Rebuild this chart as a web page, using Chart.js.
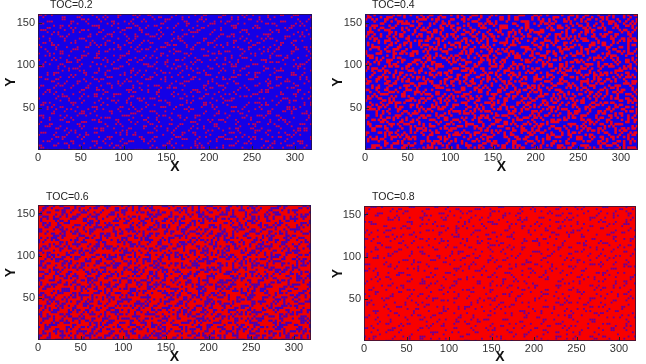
<!DOCTYPE html>
<html><head><meta charset="utf-8">
<script src="https://cdn.jsdelivr.net/npm/chart.js@4"></script>
<style>
html,body{margin:0;padding:0;background:#fff;width:646px;height:364px;overflow:hidden}
#wrap{position:relative;width:646px;height:364px}
canvas{position:absolute}
</style></head><body><div id="wrap"></div>
<script>
const xTicks=[0,50,100,150,200,250,300];
const yTicks=[50,100,150];
const titles=["TOC=0.2","TOC=0.4","TOC=0.6","TOC=0.8"];
// Hand-estimated texture of the minority phase; each hex digit covers 2x2 sub-cells.
const toc02Rows=[
"36010840 0c102806 40a10036 0290c004 18042061 00c30482 60180a04 21063008",
"00c40218 40360092 0c004810 64010a30 02c00691 0480c120 03064010 8c002481",
"21080c06 01028c40 16200194 080c2100 60a10408 31020c60 10840329 000c1640",
"8c300142 60c80014 0028630a 41006012 08041c30 04a00218 c0130048 42610082",
"0016a004 12004830 c6014080 1c082406 00c23100 60840c01 24008c60 10082a04",
"41800360 08c21006 018024a1 00316008 a6001084 08103206 800146c0 0a300118",
"0c240018 a0016408 38002c10 62c00841 03400c28 c1004a10 160c2002 84061200",
"90036080 040c1262 00a41806 00408c32 10a06002 06241880 0c308041 600240c8",
"02401c08 31800048 6201042c 13060082 c4021038 0048c003 41028a06 100c3024",
"18a20304 00c60a10 080c6100 0480a142 0036008c 21300406 02a01068 c0410082",
"40064180 2c100316 40810c28 60120040 c8102c00 460a0182 3800c410 06182006",
"06800c23 01402880 16002401 8c060a18 00426010 080c2460 00c40132 18004c60",
"3100a014 c6001042 08c30040 02380014 61a80402 c0140318 61002c04 8002a140",
"0048c201 02a40c18 30004a16 01042c80 06001c24 00620a01 048c2006 310c0042",
"c0120406 60018002 c4011820 60c20804 2801c003 18040c61 20a40018 c0031680",
"021c3080 0c240361 00806c04 03102a00 40c61208 a0032800 03100642 08d00124",
"84006c10 41081080 34260042 180c4081 03400086 02c41030 40860a18 6002c010",
"10c20042 00c30a44 01008c12 48006032 1800c424 30060081 24004c30 00138402",
"06281800 42800c06 18c40130 020a1006 8042030c 04188240 00c61300 a4086041",
"40006234 08120380 4200061c 80c41002 0c201860 80240c01 32088002 0c401806",
"0c800109 c0600414 0360a802 140032c0 00a81084 42063100 048c0420 60a21048",
"21460c00 14008c20 100c0240 06018c20 43040061 a8001c40 60081302 00c80412",
"00181062 80c20601 8424012c 10c40802 00361004 01400c82 04201860 0c361080",
"c4030480 06341800 0108c630 40024c01 84008c20 06128003 800c4618 40010236",
"01a00c12 40008462 30c00410 860a0024 01602808 80c41042 1a002040 6c020081",
"60840021 0c310038 00640281 02c01084 0c023400 1c020060 04c30814 02600c48",
"0230c180 02600c84 18020c00 a1062040 600814a0 034080c1 08604002 900184c0",
"8c004016 a0040c21 0046a080 08c20016 0841c006 20018c24 00a30610 48026130",
"1002c860 06830040 c4012038 400c0102 c6002804 10c60048 14c00280 c0360108",
"04c10208 40108c06 20060c40 b0640081 02308100 4a023180 06201c04 08108c02",
"c0086034 18200602 81c83000 02800c34 1800a642 00048c10 32008061 20c60380",
"21400c01 c0041830 0601048c 40164002 80c20130 c6014002 c8041620 01840c10"];
const toc04Rows=[
"a4180c62 15204983 06c01a24 83150628 4a0c3106 9120c418 3a06142c 8150a243",
"1260a149 c8046312 a1483025 1c60a482 16038c41 2e0590a6 41a83016 2c49068a",
"48c21806 2394a105 1836c204 50a91368 c4290a52 81361c04 92c0581a 03a42c91",
"05169c30 a2481e60 c2509a14 2c03148a 31806a94 0c2a4316 840b6c21 50198426",
"a3480a15 c1068429 3a04c186 91682c03 4a159062 b3048c15 206a1904 c3841a60",
"16c20924 385011a6 8491260c 034a9251 062c8138 4160a2c9 159c0342 1a60c894",
"8015a346 0c92a130 45180c6a 2491a038 c5a24016 0c39a184 62031ca8 40562a13",
"2ac40618 51a0263c 81a0345c 180e6410 28318c42 96a01c24 c190a382 96084a21",
"41092ca3 860c4891 32c61089 a5042e81 95c00a36 01844a63 08a25c10 243c8a06",
"9c2304a1 32a51064 a8014c32 6098c143 0a2e4185 3c60b014 96341082 a9c01638",
"03a81c62 9408c2a5 1036a894 120da460 c1039846 8415ca20 0c806a39 12450ca8",
"64150b86 20c3491a 9c02614a 38a10592 60a4c230 1a6c0845 3219c4a0 c8260349",
"a8c06213 8a14062c a3108c29 461c063a 189a0514 c2038a91 60ac1426 0318a654",
"1243a905 c039a146 1c865023 a9024c81 a3c04896 048216c3 1950a824 c8a31c02",
"060c94a8 1624c803 62094a1e 10c3a426 02691c08 58a34061 c8261a93 20491e64",
"94a12c06 a850126c 08a1c346 8506a192 c814620a 31c60a94 028c56a1 69a0248c",
"38042961 0c69a312 c6249012 c3814a08 2690a34c 8902c31a 64a09c13 048c2361",
"c2a18504 1ac05048 231c80a5 0a96240c 91054c36 a4268c01 1a83420c 9215c0a8",
"0149c632 850a36c4 a580431c 6021a8c3 0c3a1062 15c0469a 80c2a164 a0361c49",
"a62c0891 21940c86 0c16a229 a4910c52 86a12c90 63089a24 c1049268 1a850c24",
"14083a6c 4632a810 9a26018c 1830c645 a10864c3 0a92c148 26a50c14 c8421a93",
"862c9105 c0a1540a 64c1a302 c0590a18 34c2069a 813c4601 a9086c32 04a61c82",
"2391460a 1c08a269 03189c46 8a26c413 0985a21c 462a8139 0c52a084 691034ca",
"c0a8120c 60931c84 a8624013 190c82a4 c6341089 a0c1460a 938c1062 1ca25806",
"1846c3a2 8a04621c 41a58c26 06a1349c 028ac316 19084ca6 21a4c093 86014a2c",
"a40219c8 3c61a804 260c901a c4290861 a5640c92 4ca23108 c406a91c 2a8c4301",
"0963a410 90a2c643 18a4c632 0a968103 1c82a406 a1069c24 1a26c084 5190c8a6",
"c21c8946 04a81619 a4061c89 48c13a26 8061a3c9 3c18024a 846013a2 c0a2614c",
"1480a2c6 6a4c0283 0c8a2314 a2069c10 a43c0861 40a69c12 58c2a90c 09468a21",
"a2369018 81320ca4 c6a14580 1c92a4c0 0a8613c4 9a21c806 0234c186 a01c8264",
"08c4a163 2c96018a 1346082a c0861a34 c1a94206 068a1c43 a18c4026 9c34a010",
"86120c94 a14c8263 a0c91240 9a260c18 3826a10c 91c4036a 180a62c9 0486a239"];
const toc06Rows=[
"0e1603c4 a8304e12 70c2815a 16e00392 84c15a06 3c80e12a 06d1408c 7a100c36",
"81c03a58 12e60481 0c3a7016 c8215c04 36a01e82 c0147a03 90e6083c 41a27008",
"3c4816a0 c7089e10 63a014c8 027e3085 c0491a7c 08631e40 a2c80d16 38046ae1",
"a0127c06 30a5c241 08d19602 c3a80e14 5610c8a2 7e0324a0 1c760a41 82c37018",
"07e0a431 8c067a12 e4c03816 a1065c82 071ea030 c482160d a0385c06 e1408a36",
"c2183e80 14a0c736 1a048e52 087c1360 a8e1064c 13a8027e 41c0963a 082ce510",
"381c0652 e9017084 c25e0136 a0c84a17 02563c81 e0c74a20 863c1078 a45012c6",
"804e7a10 063c81a2 7018c3a4 6e12048c 37a0c812 067a1e80 3c04a2e1 08761c40",
"56013c82 a1e4027c 01a66c08 1370e2a0 0c4e8136 a8127c06 40e1983a 1c7028a4",
"0ca2c164 37081e5a c4801a76 c2083c41 a6701c04 3e80c254 1a067ce0 8342c10e",
"e2180703 c85ca601 3a16e048 017ca382 1058c2ae 0146e038 a0c3701c 06a8e412",
"417c80a6 12e0384c 804c73a0 1e4806c1 7c82a036 a8174c02 1e3605a8 c0713c86",
"0836ce12 a7046182 e71a0326 8c50e1a0 3a41068e 0c23e190 7804c6a3 1e0864c0",
"a1c0387e 04c31a78 06c43e81 a2176c04 c802e63a 71c0481e a26c0817 3c80a256",
"3e081245 e872018c 3a70c186 043e9420 1a6c3708 84e11a06 c0713e84 01cae230",
"c4a2760c 012ca64e 804813e6 a0c81752 e4080c3e 13a0c670 28c1043a 7e160984",
"06183ca1 e4061870 c7a2046c 183e0a41 06c7a108 e6023c81 a0564e81 20c3a60e",
"718e0432 81ca7e02 18463c80 c6a21e04 703c0a8e 0184c67a 1c08e203 4c81a762",
"a04c61e8 3c0264a8 e0c18307 4a1e6c02 81a34e06 c8371e40 82ce0461 30a8c41e",
"1e3208c4 a0761e08 3614e8c2 0a76013c c2801e74 0a36e148 06a1c730 8e13c006",
"8406ae31 c8120c7a 81c40e36 a1803e4c 162c0ae1 846c023a c1703e08 a4610c78",
"3ac81046 e273a804 7c06a211 ce400836 a1c07e28 13c6a084 2e708c16 0c43e1a0",
"0167c2a8 0c16e041 a28e370c 0641a8e3 0c36801e 74c028a6 13c8e406 7a02c18e",
"c8306e14 81a7c038 1064c8a3 7e0c1284 e3a00c47 a12e3608 c47018a2 0e64c310",
"16a8e204 7c0c1a60 e3c8041e 20a4c378 06c1e0a4 3c068c72 1e80a436 71c0281c",
"e0431c87 0162e48a 037c81a0 1ec60428 a17e0c36 81c0246e a8371c02 846ea301",
"2c7a0813 c6e0841e 60a8c437 0c821e60 a4013ce8 0617a2c8 046ce031 a6180e74",
"8106c3e4 1a036c81 e70c4a12 e4803c16 08c7a261 1ce08470 2ac6103e 81c40a76",
"4ae31084 70c81e26 18a4063c 81a76c02 3c801e4a 70c6082e 14a3c806 e7103c0a",
"06187ca2 0ec4a1e0 3c06c872 1a043e81 c6a2701e 0483c6a1 781e04c2 3a0c67e8",
"c3a01e46 812c7608 e1c0a438 046e7c10 820c3ea4 61c81ae0 063c8417 a2e0c814",
"1870c682 a4e01c36 0a6c8142 e3c0780e 1a846c03 e1a2086c 43a1e078 0c368a41"];
const toc08Rows=[
"06301080 c0230084 21060840 00c41802 30008106 40200c18 02460080 3100c204",
"800c4012 06100240 08c01024 61000832 0440c100 12064080 c0082006 048102c0",
"10210806 40800c32 00460180 04180600 a1028040 0c400318 04100c60 80a20014",
"4c000230 10c40201 80210048 a0010c42 08003610 80020c81 30400106 c0040a20",
"02308400 0c010620 14c00806 08024031 00620c04 16080044 80120c00 06208310",
"80040c61 20300084 40060a10 10c42000 0c100180 40a40210 04c18002 10040068",
"16002080 04860100 0a108240 06008430 40810024 08003c02 61040080 0c302100",
"c0410306 20001c04 80400314 40200c01 02340800 80c20400 10030840 00a10486",
"020c0010 c1060020 08320080 10a60401 c0000612 34040081 00c81006 c4010020",
"40801c40 02408801 40060c02 84000632 08140c00 01002860 c0021480 02081430",
"0821000c 30040c00 210080c4 00180240 60200108 c4018200 08460020 10600c02",
"a0040a60 00810214 0c006010 c2040800 01806004 020c1040 30008106 80044081",
"00312000 0c480008 c2010483 00300c14 86020040 08300006 81c00420 06200800",
"c4008140 10062180 00214008 06400120 00480c31 c0014080 00120c46 40810c10",
"04800216 0048a001 84000c60 a0081006 10c20084 02081400 36004002 00c40132",
"30140800 c4002018 000c4201 00312080 0c400106 40a01060 80030084 c1080400",
"00810c02 10300084 60800100 48020c14 00240180 0c140002 00c18040 12040086",
"82060010 00c10a40 04010c30 10840040 a1064800 00210860 04820014 60040c20",
"10004860 84000316 20408600 00210a04 60c00012 c0000c41 10200c04 00810602",
"0c100402 01c80020 08601004 c2001840 02001c20 10840200 c1400068 30201080",
"40a10080 30040c02 00820140 03008200 84600401 02c40180 00360080 04180c10",
"01004c30 00602081 c4000c10 60040c81 00183000 46002804 10800c42 80020064",
"86002004 08014800 10320400 04a01030 c0020480 10200c06 c0408108 00610200",
"20108108 c2002061 04800048 c1080206 04610080 00c48030 00021c04 60008410",
"00c40240 00183004 00a60012 00104820 10008c02 48002006 80124400 060c2000",
"04200803 40068400 c2100180 18000c20 01a00260 02001804 c1040036 10008041",
"30810040 02400c12 08040830 0680c400 8c000210 21c08000 34000c40 01201802",
"00060c10 80c00020 41800612 c0210040 00482104 08100c60 00108210 4c000810",
"c2400084 11000c26 00300c00 04108280 30040600 c0030081 62008004 00c10620",
"08010630 60002008 c4018040 02c00130 02c00081 00340c02 04810040 10300204",
"40c20004 04810c40 10200084 30000814 40060a10 80100c42 08200c01 c0020048",
"01100c60 80200302 06010048 c0420800 14800040 c2040106 01400830 06480100"];

const panels=[
 {title:titles[0],rows:toc02Rows,bg:"#1400e6",mark:"rgba(235,0,50,.85)",size:1.3,left:0,top:0,pad:{left:38,right:11,top:14},bottom:32,titleX:50,titleY:5,xPad:6,yPad:3},
 {title:titles[1],rows:toc04Rows,bg:"#1400e6",mark:"rgba(250,0,20,.95)",size:1.8,left:323,top:0,pad:{left:42,right:8,top:14},bottom:32,titleX:49,titleY:5,xPad:6,yPad:7},
 {title:titles[2],rows:toc06Rows,bg:"#f00000",mark:"rgba(30,0,225,.85)",size:1.5,left:0,top:182,pad:{left:38,right:12,top:23},bottom:24,titleX:46,titleY:15,xPad:-2,yPad:3},
 {title:titles[3],rows:toc08Rows,bg:"#f80000",mark:"rgba(60,0,200,.8)",size:1.3,left:323,top:182,pad:{left:41,right:10,top:24},bottom:23,titleX:49,titleY:15,xPad:-2,yPad:7}
];

function decode(rows){
  const pts=[];
  rows.forEach((row,r)=>{
    const s=row.replace(/ /g,"");
    for(let c=0;c<s.length;c++){
      const v=parseInt(s[c],16);
      for(let b=0;b<4;b++){
        if(v&(1<<b)){
          pts.push({x:(c*2+(b&1)+0.5)*2.5,y:160-(r*2+(b>>1)+0.5)*2.5});
        }
      }
    }
  });
  return pts;
}

const panelPlugin={
 id:"panel",
 beforeDatasetsDraw(ch,a,o){
  const A=ch.chartArea,g=ch.ctx;
  g.save();g.fillStyle=o.bg;g.fillRect(A.left,A.top,A.right-A.left,A.bottom-A.top);g.restore();
 },
 afterDatasetsDraw(ch){
  const A=ch.chartArea,g=ch.ctx,xs=ch.scales.x,ys=ch.scales.y;
  g.save();g.strokeStyle="#222";g.lineWidth=1;g.beginPath();
  xs.ticks.forEach(t=>{const p=Math.round(xs.getPixelForValue(t.value))+.5;g.moveTo(p,A.bottom);g.lineTo(p,A.bottom-4);});
  ys.ticks.forEach(t=>{const p=Math.round(ys.getPixelForValue(t.value))+.5;g.moveTo(A.left,p);g.lineTo(A.left+4,p);});
  g.stroke();
  g.strokeStyle="rgba(40,20,60,.8)";
  g.strokeRect(A.left+.5,A.top+.5,A.right-A.left-1,A.bottom-A.top-1);
  g.restore();
 },
 afterDraw(ch,a,o){
  const g=ch.ctx;g.save();g.font='10.5px "Liberation Sans"';g.fillStyle="#222";g.textBaseline="middle";
  g.fillText(o.text,o.x,o.y);g.restore();
 }
};

const wrap=document.getElementById("wrap");
panels.forEach(p=>{
 const c=document.createElement("canvas");
 c.style.left=p.left+"px";c.style.top=p.top+"px";c.style.width="323px";c.style.height="182px";
 wrap.appendChild(c);
 new Chart(c,{
  type:"scatter",
  data:{datasets:[{data:decode(p.rows),pointStyle:"rect",pointRadius:p.size,pointHoverRadius:p.size,pointBorderWidth:0,backgroundColor:p.mark}]},
  plugins:[panelPlugin],
  options:{
   responsive:false,animation:false,
   layout:{padding:{left:0,right:p.pad.right,top:p.pad.top,bottom:0}},
   plugins:{legend:{display:false},tooltip:{enabled:false},title:{display:false},
    panel:{bg:p.bg,text:p.title,x:p.titleX,y:p.titleY}},
   scales:{
    x:{type:"linear",min:0,max:320,
      afterBuildTicks(s){s.ticks=xTicks.map(v=>({value:v}));},
      afterFit(s){s.height=p.bottom;},
      grid:{display:false,drawTicks:false},border:{display:false},
      ticks:{autoSkip:false,maxRotation:0,padding:1,color:"#333",font:{family:"Liberation Sans",size:11}},
      title:{display:true,text:"X",color:"#111",font:{family:"Liberation Sans",size:14,weight:"bold"},padding:{top:0,bottom:p.xPad}}},
    y:{type:"linear",min:1,max:160,
      afterBuildTicks(s){s.ticks=yTicks.map(v=>({value:v}));},
      afterFit(s){s.width=p.pad.left;},
      grid:{display:false,drawTicks:false},border:{display:false},
      ticks:{autoSkip:false,padding:3,color:"#333",font:{family:"Liberation Sans",size:11}},
      title:{display:true,text:"Y",color:"#111",font:{family:"Liberation Sans",size:14,weight:"bold"},padding:{top:p.yPad,bottom:0}}}
   }
  }
 });
});
</script></body></html>
